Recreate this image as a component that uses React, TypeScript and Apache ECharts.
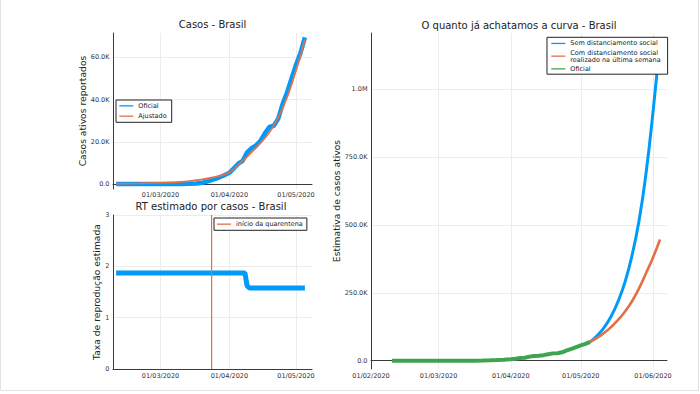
import React, { useEffect, useRef } from 'react';
import * as echarts from 'echarts';

// ---- data ----
const officialDates = ['2020-02-10','2020-02-20','2020-02-29','2020-03-05','2020-03-10','2020-03-14','2020-03-17','2020-03-20','2020-03-23','2020-03-26','2020-03-29','2020-04-01','2020-04-03','2020-04-05','2020-04-07','2020-04-09','2020-04-11','2020-04-13','2020-04-15','2020-04-17','2020-04-19','2020-04-21','2020-04-23','2020-04-25','2020-04-27','2020-04-29','2020-05-01','2020-05-03','2020-05-05'];
const officialValues = [0, 0, 5, 20, 30, 120, 290, 600, 1500, 2500, 3800, 5300, 7400, 9600, 11000, 15000, 17000, 18300, 20500, 24000, 27000, 27600, 31000, 38000, 43500, 50000, 56500, 62000, 69500];

const fittedDates = ['2020-02-10','2020-02-20','2020-03-01','2020-03-10','2020-03-17','2020-03-24','2020-04-01','2020-04-05','2020-04-10','2020-04-15','2020-04-20','2020-04-25','2020-04-30','2020-05-05'];
const fittedValues = [200, 320, 560, 1000, 1800, 3000, 5500, 9000, 14000, 19500, 26000, 36000, 50500, 68500];

const rtDates = ['2020-02-10','2020-04-08','2020-04-09','2020-04-10','2020-05-05'];
const rtValues = [1.87, 1.87, 1.62, 1.58, 1.58];

const quarantineDate = '2020-03-24';
const quarantineRange = [0, 3];

const projDates = ['2020-05-05','2020-05-08','2020-05-11','2020-05-14','2020-05-17','2020-05-20','2020-05-23','2020-05-26','2020-05-29','2020-06-01','2020-06-04'];
const noDistancingValues = [69500, 92000, 122000, 163000, 218000, 290000, 388000, 515000, 690000, 915000, 1170000];
const distancingValues = [69500, 84000, 102000, 124000, 150000, 181000, 219000, 266000, 322000, 380000, 446000];

// ---- ticks ----
const leftMonthTicks = ['2020-03-01','2020-04-01','2020-05-01'];
const leftMonthLabels = ['01/03/2020','01/04/2020','01/05/2020'];
const rightMonthTicks = ['2020-02-01','2020-03-01','2020-04-01','2020-05-01','2020-06-01'];
const rightMonthLabels = ['01/02/2020','01/03/2020','01/04/2020','01/05/2020','01/06/2020'];
const casesTicks = [0, 20000, 40000, 60000];
const casesTickLabels = ['0.0','20.0K','40.0K','60.0K'];
const estimateTicks = [0, 250000, 500000, 750000, 1000000];
const estimateTickLabels = ['0.0','250.0K','500.0K','750.0K','1.0M'];
const rtTicks = [0, 1, 2, 3];
const rtTickLabels = ['0','1','2','3'];

const BLUE = '#009AFA';
const ORANGE = '#E36F47';
const GREEN = '#3EA44E';
const FONT = 'DejaVu Sans';
const DAY = 86400000;

const t = (s: string) => Date.parse(s + 'T00:00:00Z');
const zip = (ds: string[], vs: number[]) => ds.map((d, i) => [t(d), vs[i]]);
const lookup = (ticks: number[], labels: string[]) => (v: number) => {
  const i = ticks.findIndex((x) => Math.abs(x - v) < 1e-6 * Math.max(1, Math.abs(x)));
  return i >= 0 ? labels[i] : '';
};

const axisLineStyle = { lineStyle: { color: '#3a3a3a', width: 1 } };
const splitLineStyle = { show: true, lineStyle: { color: '#ececec', width: 1 } };
const labelBase = { fontSize: 6.5, color: '#333', fontFamily: FONT };

function xAxisDef(gridIndex: number, min: number, max: number, ticks: string[], labels: string[], margin: number) {
  const tv = ticks.map(t);
  return {
    type: 'value',
    gridIndex,
    min,
    max,
    scale: true,
    axisLine: axisLineStyle,
    axisTick: { show: false, customValues: tv },
    axisLabel: { ...labelBase, margin, customValues: tv, formatter: (v: number) => lookup(tv, labels)(v), hideOverlap: false, showMinLabel: true, showMaxLabel: true },
    splitLine: splitLineStyle,
  };
}

function yAxisDef(gridIndex: number, min: number, max: number, ticks: number[], labels: string[], name: string, nameGap: number) {
  return {
    type: 'value',
    gridIndex,
    min,
    max,
    name,
    nameLocation: 'middle',
    nameRotate: 90,
    nameGap,
    nameTextStyle: { fontSize: 9.2, color: '#222', fontFamily: FONT },
    axisLine: { show: true, ...axisLineStyle },
    axisTick: { show: false, customValues: ticks },
    axisLabel: { ...labelBase, margin: 3.5, customValues: ticks, formatter: (v: number) => lookup(ticks, labels)(v) },
    splitLine: splitLineStyle,
  };
}

const legendItem = (name: string, color: string) => ({ name, icon: 'rect', itemStyle: { color, borderWidth: 0 } });

export default function App() {
  const ref = useRef<HTMLDivElement>(null);
  useEffect(() => {
    if (!ref.current) return;
    document.body.style.margin = '0';
    const chart = echarts.init(ref.current, undefined, { renderer: 'svg' });
    const leftMin = t('2020-02-08') + 0.6 * DAY;
    const leftMax = t('2020-05-08') + 0.2 * DAY;
    const rightMin = t('2020-02-01');
    const rightMax = t('2020-06-07');
    const legendText = { fontSize: 6.5, color: '#222', fontFamily: FONT, lineHeight: 6.7 };
    const legendBase = {
      orient: 'vertical', selectedMode: false, itemWidth: 14, itemHeight: 1.3,
      borderColor: '#222', borderWidth: 1, backgroundColor: '#fff', borderRadius: 0,
      textStyle: legendText,
    };
    const option: any = {
      animation: false,
      backgroundColor: '#ffffff',
      textStyle: { fontFamily: FONT },
      title: [
        { text: 'Casos - Brasil', left: 212.5, top: 19, textAlign: 'center', padding: 0, textStyle: { fontSize: 10, fontWeight: 'normal', color: '#222', fontFamily: FONT } },
        { text: 'RT estimado por casos - Brasil', left: 211, top: 201, textAlign: 'center', padding: 0, textStyle: { fontSize: 10, fontWeight: 'normal', color: '#222', fontFamily: FONT } },
        { text: 'O quanto já achatamos a curva - Brasil', left: 519, top: 20, textAlign: 'center', padding: 0, textStyle: { fontSize: 10, fontWeight: 'normal', color: '#222', fontFamily: FONT } },
      ],
      grid: [
        { left: 113, top: 33, width: 199, height: 156, outerBoundsMode: 'none', containLabel: false },
        { left: 113, top: 215, width: 199, height: 154, outerBoundsMode: 'none', containLabel: false },
        { left: 371, top: 33, width: 296, height: 336, outerBoundsMode: 'none', containLabel: false },
      ],
      xAxis: [
        xAxisDef(0, leftMin, leftMax, leftMonthTicks, leftMonthLabels, 2),
        xAxisDef(1, leftMin, leftMax, leftMonthTicks, leftMonthLabels, 3),
        xAxisDef(2, rightMin, rightMax, rightMonthTicks, rightMonthLabels, 3),
      ],
      yAxis: [
        yAxisDef(0, -2370, 71560, casesTicks, casesTickLabels, 'Casos ativos reportados', 26),
        yAxisDef(1, 0, 3, rtTicks, rtTickLabels, 'Taxa de reprodução estimada', 10.5),
        yAxisDef(2, -30500, 1206000, estimateTicks, estimateTickLabels, 'Estimativa de casos ativos', 30.5),
      ],
      legend: [
        {
          ...legendBase, left: 116, top: 100,
          padding: [2.35, 5, 2.65, 3.3], itemGap: 3.3,
          data: [legendItem('Oficial', BLUE), legendItem('Ajustado', ORANGE)],
        },
        {
          ...legendBase, left: 214, top: 218,
          padding: [2.65, 4, 2.65, 3], itemGap: 2,
          data: [legendItem('início da quarentena', ORANGE)],
        },
        {
          ...legendBase, left: 547, top: 37.3,
          padding: [2.65, 7, 1.85, 4.3], itemGap: 2.35,
          data: [
            legendItem('Sem distanciamento social', BLUE),
            legendItem('Com distanciamento social\nrealizado na última semana', ORANGE),
            legendItem('Oficial', GREEN),
          ],
        },
      ],
      graphic: [
        { type: 'polyline', silent: true, z: -1, shape: { points: [[0.5, 0], [0.5, 390.5], [698.5, 390.5], [698.5, 0]] }, style: { stroke: '#e2e2e2', fill: null, lineWidth: 1 } },
      ],
      series: [
        { name: 'Oficial', type: 'line', xAxisIndex: 0, yAxisIndex: 0, symbol: 'none', data: zip(officialDates, officialValues), lineStyle: { color: BLUE, width: 4.5 }, itemStyle: { color: BLUE } },
        { name: 'Ajustado', type: 'line', xAxisIndex: 0, yAxisIndex: 0, symbol: 'none', smooth: true, data: zip(fittedDates, fittedValues), lineStyle: { color: ORANGE, width: 1.8 }, itemStyle: { color: ORANGE } },
        { name: 'RT estimado', type: 'line', xAxisIndex: 1, yAxisIndex: 1, symbol: 'none', data: zip(rtDates, rtValues), lineStyle: { color: BLUE, width: 5 }, itemStyle: { color: BLUE } },
        { name: 'início da quarentena', type: 'line', xAxisIndex: 1, yAxisIndex: 1, symbol: 'none', data: quarantineRange.map((v) => [t(quarantineDate), v]), lineStyle: { color: ORANGE, width: 1.2 }, itemStyle: { color: ORANGE } },
        { name: 'Sem distanciamento social', type: 'line', xAxisIndex: 2, yAxisIndex: 2, symbol: 'none', smooth: true, data: zip(projDates, noDistancingValues), lineStyle: { color: BLUE, width: 3 }, itemStyle: { color: BLUE } },
        { name: 'Com distanciamento social\nrealizado na última semana', type: 'line', xAxisIndex: 2, yAxisIndex: 2, symbol: 'none', smooth: true, data: zip(projDates, distancingValues), lineStyle: { color: ORANGE, width: 2.6 }, itemStyle: { color: ORANGE } },
        { name: 'Oficial', type: 'line', xAxisIndex: 2, yAxisIndex: 2, symbol: 'none', data: zip(officialDates, officialValues), lineStyle: { color: GREEN, width: 4 }, itemStyle: { color: GREEN } },
      ],
    };
    chart.setOption(option);
    return () => chart.dispose();
  }, []);
  return <div ref={ref} style={{ position: 'absolute', left: 0, top: 0, width: 700, height: 394 }} />;
}
